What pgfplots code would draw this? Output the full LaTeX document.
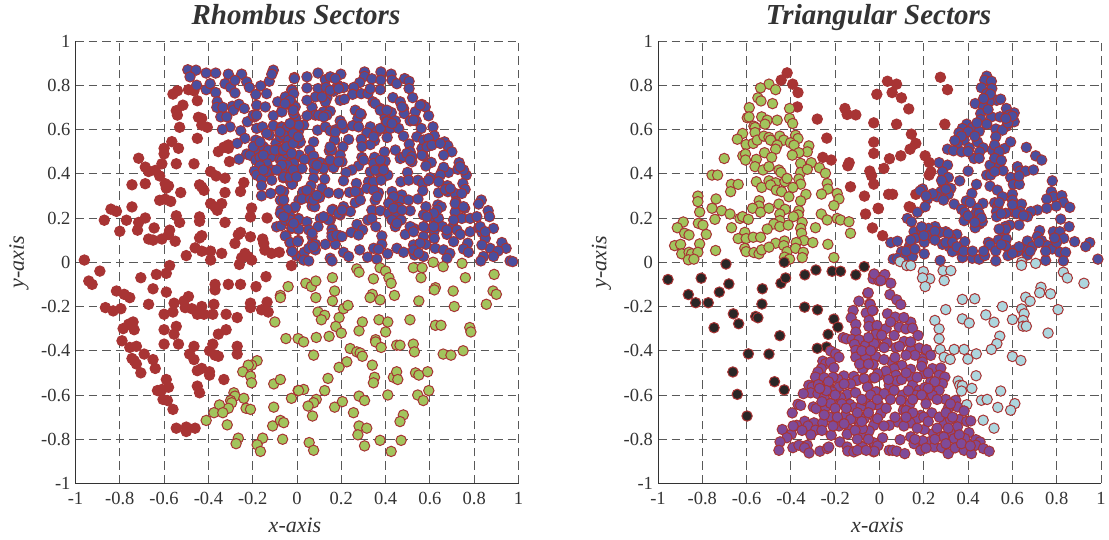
\documentclass[border=0pt]{standalone}
\usepackage{pgfplots}
\pgfplotsset{compat=1.18}
\usepackage{fontspec}
\setmainfont{Liberation Serif}
\definecolor{cred}{HTML}{A83434}
\definecolor{cblue}{HTML}{4A4E9E}
\definecolor{cgreen}{HTML}{A2C45C}
\definecolor{cpurple}{HTML}{7F4A98}
\definecolor{cblack}{HTML}{2A2626}
\definecolor{ccyan}{HTML}{ADD6DE}
\definecolor{ctext}{HTML}{333333}
\pgfplotsset{
 panel/.style={
  scale only axis,width=443bp,height=442.5bp,
  xmin=-1,xmax=1,ymin=-1,ymax=1,
  axis x line=bottom,axis y line=left,
  axis line style={-,color=ctext,line width=0.9bp},
  xtick={-1,-0.8,-0.6,-0.4,-0.2,0,0.2,0.4,0.6,0.8,1},
  ytick={-1,-0.8,-0.6,-0.4,-0.2,0,0.2,0.4,0.6,0.8,1},
  xticklabels={-1,-0.8,-0.6,-0.4,-0.2,0,0.2,0.4,0.6,0.8,1},
  yticklabels={-1,-0.8,-0.6,-0.4,-0.2,0,0.2,0.4,0.6,0.8,1},
  major tick length=0pt,
  tick style={draw=none},
  grid=major,
  grid style={draw=black!65,line width=0.9bp,dash pattern=on 8.5bp off 5bp},
  tick label style={font=\fontsize{18.5bp}{20bp}\selectfont,text=ctext},
  xticklabel style={yshift=-5bp},
  yticklabel style={xshift=-1.5bp},
  xlabel style={at={(axis description cs:0.5,0)},anchor=center,yshift=-41.5bp,xshift=-2bp,font=\fontsize{22bp}{24bp}\itshape,text=ctext},
  ylabel style={at={(axis description cs:0,0.5)},anchor=center,yshift=56.5bp,font=\fontsize{22bp}{24bp}\itshape,text=ctext},
  title style={at={(axis description cs:0.5,1)},anchor=base,yshift=11bp,xshift=-1bp,font=\fontsize{29bp}{32bp}\bfseries\itshape,text=ctext},
  xlabel={x-axis},ylabel={y-axis},
 },
 pts/.style={only marks,mark=*,mark size=5.2bp,mark options={draw=cred,fill=#1,line width=1bp}},
}
\begin{document}
\begin{tikzpicture}
\path[use as bounding box] (-75.5bp,-56.5bp) rectangle (1033.5bp,483.5bp);
\begin{axis}[panel,at={(0,0)},anchor=south west,title={Rhombus Sectors}]
\addplot[pts=cred] coordinates {
(-0.96,0.01)(-0.89,-0.04)(-0.87,0.19)(-0.84,0.24)(-0.815,0.23)(-0.80,0.14)(-0.77,0.19)(-0.745,0.35)(-0.745,0.25)(-0.72,0.145)(-0.715,0.18)(-0.685,0.20)(-0.685,0.355)(-0.715,0.47)(-0.685,0.43)(-0.67,0.41)(-0.64,0.415)(-0.61,0.445)(-0.62,0.39)(-0.60,0.515)(-0.60,0.49)(-0.565,0.545)(-0.535,0.515)(-0.545,0.445)(-0.465,0.445)(-0.595,0.355)(-0.58,0.345)(-0.59,0.335)(-0.525,0.315)(-0.62,0.28)(-0.595,0.285)(-0.57,0.275)(-0.545,0.21)(-0.53,0.18)(-0.645,0.155)(-0.67,0.105)(-0.65,0.10)(-0.61,0.105)(-0.575,0.145)(-0.58,0.125)(-0.55,0.095)(-0.50,0.03)(-0.46,0.065)(-0.43,0.05)(-0.39,0.05)(-0.39,0.01)(-0.34,0.04)(-0.44,0.11)(-0.43,0.12)(-0.44,0.205)(-0.44,0.185)(-0.44,0.35)(-0.43,0.34)(-0.42,0.325)(-0.39,0.265)(-0.36,0.235)(-0.34,0.265)(-0.37,0.25)(-0.325,0.315)(-0.325,0.38)(-0.39,0.41)(-0.365,0.39)(-0.255,0.32)(-0.24,0.36)(-0.325,0.18)(-0.205,0.245)(-0.21,0.205)(-0.135,0.20)(-0.265,0.125)(-0.255,0.135)(-0.28,0.085)(-0.21,0.115)(-0.155,0.105)(-0.15,0.085)(-0.145,0.055)(-0.115,0.04)(-0.08,0.045)(-0.235,0.04)(-0.22,0.025)(-0.25,0.02)(-0.205,0.01)(-0.26,-0.01)(-0.025,-0.015)(-0.305,0.455)(-0.355,0.50)(-0.33,0.52)(-0.31,0.53)(-0.31,0.515)(-0.45,0.56)(-0.53,0.61)(-0.405,0.61)(-0.43,0.62)(-0.445,0.655)(-0.43,0.65)(-0.45,0.73)(-0.545,0.685)(-0.54,0.665)(-0.515,0.71)(-0.56,0.76)(-0.54,0.775)(-0.49,0.78)(-0.465,0.775)
(-0.94,-0.085)(-0.925,-0.10)(-0.865,-0.205)(-0.83,-0.22)(-0.815,-0.13)(-0.795,-0.21)(-0.78,-0.145)(-0.755,-0.16)(-0.785,-0.30)(-0.76,-0.28)(-0.74,-0.27)(-0.735,-0.305)(-0.79,-0.355)(-0.755,-0.385)(-0.725,-0.38)(-0.69,-0.415)(-0.745,-0.435)(-0.735,-0.445)(-0.725,-0.46)(-0.705,-0.50)(-0.705,-0.07)(-0.635,-0.055)(-0.59,-0.05)(-0.575,-0.015)(-0.65,-0.12)(-0.59,-0.135)(-0.67,-0.19)(-0.60,-0.235)(-0.56,-0.225)(-0.555,-0.185)(-0.51,-0.175)(-0.49,-0.155)(-0.505,-0.205)(-0.475,-0.21)(-0.45,-0.235)(-0.43,-0.20)(-0.42,-0.235)(-0.38,-0.235)(-0.375,-0.19)(-0.37,-0.10)(-0.37,-0.125)(-0.31,-0.10)(-0.255,-0.10)(-0.185,-0.11)(-0.14,-0.065)(-0.32,-0.235)(-0.27,-0.25)(-0.21,-0.185)(-0.21,-0.205)(-0.135,-0.18)(-0.16,-0.215)(-0.13,-0.225)(-0.60,-0.305)(-0.545,-0.29)(-0.555,-0.325)(-0.60,-0.37)(-0.535,-0.37)(-0.465,-0.38)(-0.485,-0.415)(-0.465,-0.44)(-0.395,-0.40)(-0.38,-0.37)(-0.37,-0.42)(-0.355,-0.425)(-0.355,-0.325)(-0.32,-0.305)(-0.27,-0.38)(-0.27,-0.415)(-0.65,-0.44)(-0.64,-0.48)(-0.45,-0.49)(-0.43,-0.48)(-0.395,-0.495)(-0.395,-0.51)(-0.33,-0.53)(-0.59,-0.53)(-0.63,-0.58)(-0.61,-0.575)(-0.58,-0.565)(-0.45,-0.56)(-0.44,-0.59)(-0.605,-0.62)(-0.585,-0.625)(-0.56,-0.665)(-0.545,-0.75)(-0.50,-0.745)(-0.50,-0.765)(-0.46,-0.75)
};
\addplot[pts=cblue] coordinates {
(-0.493,0.87)(-0.456,0.868)(-0.41,0.855)(-0.367,0.855)(-0.483,0.838)(-0.453,0.80)(-0.41,0.78)(-0.392,0.807)(-0.367,0.767)(-0.31,0.85)(-0.25,0.85)(-0.325,0.807)(-0.30,0.79)(-0.28,0.822)(-0.28,0.765)(-0.227,0.815)(-0.215,0.79)(-0.186,0.758)(-0.164,0.797)(-0.137,0.762)(-0.125,0.818)(-0.107,0.868)(-0.114,0.85)(-0.012,0.835)(-0.087,0.725)(-0.05,0.747)(-0.024,0.78)(-0.029,0.71)(-0.36,0.725)(-0.362,0.70)(-0.335,0.70)(-0.292,0.705)(-0.287,0.687)(-0.262,0.714)(-0.238,0.695)(-0.182,0.71)(-0.143,0.702)(-0.344,0.657)(-0.317,0.657)(-0.302,0.612)(-0.337,0.60)(-0.224,0.635)(-0.192,0.657)(-0.07,0.68)(-0.107,0.662)(-0.182,0.605)(-0.156,0.612)(-0.107,0.617)(-0.07,0.612)(-0.006,0.65)(-0.04,0.605)(-0.254,0.594)(-0.235,0.56)(-0.27,0.537)(-0.186,0.552)(-0.125,0.575)(-0.062,0.564)(-0.032,0.582)(0.006,0.59)(-0.19,0.51)(-0.152,0.522)(-0.095,0.537)(-0.08,0.514)(0.006,0.537)(-0.227,0.489)(-0.212,0.484)(-0.262,0.466)(-0.186,0.462)(-0.167,0.474)(-0.114,0.477)(-0.077,0.466)(-0.044,0.462)(-0.017,0.447)(0.006,0.477)(-0.137,0.447)(-0.167,0.436)(-0.192,0.412)(-0.114,0.417)(-0.077,0.414)(-0.035,0.417)(-0.182,0.394)(-0.16,0.376)(-0.114,0.371)(-0.062,0.382)(-0.024,0.356)(-0.16,0.346)(-0.16,0.30)(-0.119,0.311)(-0.062,0.319)(-0.062,0.286)(0.009,0.281)(-0.072,0.236)(-0.054,0.233)(-0.009,0.248)(-0.032,0.209)(0.006,0.198)(-0.05,0.188)(-0.092,0.16)(-0.072,0.165)(-0.024,0.153)(0.006,0.149)(-0.05,0.119)(-0.032,0.089)(0.006,0.098)(-0.024,0.051)(-0.002,0.029)(0.02,0.026)
(0.095,0.855)(-0.012,0.83)(0.045,0.838)(0.128,0.825)(0.15,0.838)(0.198,0.85)(0.305,0.86)(0.305,0.84)(0.379,0.86)(0.425,0.85)(0.283,0.812)(0.338,0.829)(0.379,0.823)(0.429,0.823)(0.451,0.807)(0.486,0.83)(0.506,0.818)(0.506,0.785)(-0.022,0.777)(0.045,0.788)(0.095,0.785)(0.131,0.79)(0.184,0.80)(0.165,0.773)(0.256,0.79)(0.251,0.759)(0.29,0.762)(0.32,0.762)(0.376,0.78)(0.083,0.747)(0.135,0.743)(0.128,0.725)(0.195,0.732)(0.214,0.737)(-0.022,0.717)(-0.053,0.747)(0.343,0.725)(0.433,0.744)(0.466,0.725)(0.522,0.744)(0.068,0.70)(-0.008,0.702)(0.12,0.68)(0.15,0.683)(0.083,0.665)(0.045,0.662)(-0.068,0.68)(0.263,0.687)(0.29,0.668)(0.275,0.65)(0.376,0.695)(0.426,0.677)(0.481,0.695)(0.484,0.672)(0.534,0.68)(0.564,0.713)(0.579,0.702)(0.594,0.662)(0.398,0.654)(-0.005,0.65)(0.195,0.639)(0.444,0.639)(0.403,0.635)(0.511,0.639)(0.538,0.639)
(0.03,0.62)(-0.008,0.605)(-0.038,0.597)(-0.068,0.609)(0.093,0.597)(0.128,0.612)(0.15,0.594)(0.177,0.60)(0.21,0.605)(0.251,0.617)(0.331,0.612)(0.316,0.585)(0.361,0.59)(0.391,0.605)(0.421,0.605)(0.459,0.605)(0.561,0.605)(0.614,0.612)(0.481,0.57)(0.541,0.567)(0.407,0.564)(0.62,0.571)(0.586,0.552)(0.666,0.544)(0.681,0.526)(0.699,0.499)(0.662,0.484)(-0.06,0.559)(0.015,0.544)(0.075,0.544)(0.17,0.552)(0.233,0.555)(0.29,0.556)(0.35,0.549)(0.331,0.532)(0.507,0.534)(0.597,0.544)(0.564,0.514)(0.207,0.522)(0.293,0.522)(0.01,0.484)(0.057,0.507)(0.146,0.504)(0.158,0.507)(0.195,0.484)(0.444,0.507)(0.395,0.499)(0.511,0.499)(0.466,0.469)(0.571,0.48)(0.293,0.474)(0.35,0.474)(0.075,0.48)(-0.068,0.462)(-0.015,0.447)(0.033,0.465)(0.105,0.451)(0.143,0.451)(0.173,0.447)(0.203,0.454)(0.278,0.436)(0.368,0.447)(0.398,0.457)(0.519,0.454)(0.606,0.451)(0.582,0.435)(0.732,0.45)(0.726,0.42)(0.383,0.424)
(0.023,0.424)(0.078,0.417)(0.12,0.424)(0.165,0.427)(0.248,0.417)(0.221,0.405)(0.331,0.409)(0.376,0.40)(0.41,0.394)(0.499,0.406)(0.654,0.409)(0.764,0.394)(0.684,0.406)(0.075,0.379)(0.125,0.376)(0.21,0.368)(0.268,0.356)(0.323,0.364)(0.346,0.364)(0.38,0.371)(0.469,0.364)(0.504,0.371)(0.546,0.371)(0.602,0.382)(0.568,0.356)(-0.03,0.364)(-0.023,0.352)(0.749,0.356)(0.679,0.346)(0.027,0.319)(0.063,0.346)(0.063,0.311)(0.113,0.334)(0.143,0.314)(0.188,0.311)(0.237,0.316)(0.278,0.314)(0.315,0.334)(0.368,0.314)(-0.06,0.319)(0.429,0.319)(0.473,0.304)(0.568,0.323)(0.639,0.314)(0.681,0.319)(0.714,0.311)(0.759,0.329)(0.023,0.286)(0.102,0.293)(0.06,0.286)(0.263,0.269)(0.353,0.281)(0.429,0.281)(0.466,0.281)(0.504,0.281)(0.546,0.286)(0.717,0.274)(0.832,0.281)(0.82,0.263)
(0.068,0.254)(0.08,0.251)(-0.008,0.251)(-0.045,0.24)(0.162,0.239)(0.21,0.251)(0.241,0.229)(0.195,0.214)(0.338,0.236)(0.376,0.233)(0.414,0.221)(0.459,0.248)(0.447,0.221)(0.511,0.233)(0.582,0.251)(0.636,0.259)(0.651,0.251)(0.714,0.226)(0.757,0.244)(0.863,0.233)(0.869,0.206)(-0.053,0.191)(0.008,0.194)(0.045,0.183)(0.105,0.198)(0.15,0.191)(0.32,0.191)(0.338,0.198)(0.429,0.191)(0.47,0.191)(0.571,0.214)(0.609,0.206)(0.639,0.198)(0.744,0.198)(0.782,0.198)(0.812,0.206)(-0.022,0.156)(0.008,0.15)(0.053,0.146)(0.095,0.161)(0.158,0.15)(0.271,0.171)(0.245,0.135)(0.296,0.146)(0.356,0.161)(0.444,0.161)(0.526,0.153)(0.582,0.153)(0.62,0.143)(0.657,0.161)(0.704,0.161)(0.722,0.146)(0.782,0.138)(0.82,0.156)(0.887,0.153)(0.835,0.135)
(-0.053,0.119)(-0.03,0.089)(0.003,0.093)(0.068,0.116)(0.158,0.131)(0.195,0.119)(0.278,0.123)(0.383,0.119)(0.489,0.126)(0.571,0.116)(0.62,0.108)(0.677,0.126)(0.737,0.126)(0.85,0.108)(0.925,0.089)(0.068,0.081)(0.128,0.081)(0.173,0.081)(0.383,0.081)(0.526,0.078)(0.582,0.081)(0.707,0.093)(0.771,0.086)(0.872,0.063)(0.944,0.063)(0.835,0.078)(-0.022,0.048)(0.033,0.045)(0.083,0.056)(0.21,0.045)(0.233,0.026)(0.283,0.056)(0.346,0.063)(0.368,0.059)(0.409,0.038)(0.451,0.063)(0.481,0.045)(0.531,0.033)(0.571,0.026)(0.624,0.063)(0.662,0.056)(0.69,0.04)(0.677,0.018)(0.752,0.06)(0.774,0.045)(0.908,0.051)(0.842,0.026)(0.887,0.026)(0.03,0.01)(0.053,0.006)(0.15,0.018)(0.158,0.006)(0.319,0.023)(0.361,0.014)(0.83,0.006)(0.962,0.006)(0.974,0.003)
(0.113,0.747)(-0.045,0.717)(-0.015,0.762)(0.15,0.777)(0.331,0.785)(0.353,0.717)(0.376,0.687)(0.406,0.687)(0.474,0.702)(0.556,0.71)(0.526,0.642)(0.135,0.665)(0.098,0.665)(-0.015,0.619)(0.008,0.619)(-0.045,0.605)(-0.075,0.567)(-0.06,0.574)(-0.038,0.552)(0.346,0.567)(0.376,0.605)(0.406,0.635)(0.429,0.627)(0.571,0.552)(0.594,0.559)(0.564,0.484)(0.587,0.522)(0.609,0.529)(0.647,0.537)(0.481,0.477)(0.496,0.492)(0.519,0.477)(0.511,0.462)(0.301,0.462)(0.346,0.447)(0.376,0.462)(0.353,0.417)(0.391,0.417)(0.075,0.447)(0.09,0.439)(0.15,0.462)(0.188,0.454)(-0.068,0.507)(-0.045,0.492)(-0.045,0.439)(-0.068,0.417)(-0.06,0.386)(-0.03,0.386)(0.662,0.429)(0.647,0.394)(0.752,0.417)(0.737,0.432)(0.594,0.371)(0.639,0.364)(0.669,0.329)(0.692,0.334)(0.744,0.311)(0.714,0.266)(0.752,0.251)(0.632,0.236)(0.617,0.221)(0.587,0.206)(0.827,0.161)(0.85,0.138)(0.707,0.191)(0.677,0.146)(0.617,0.161)(0.571,0.161)(0.556,0.086)(0.526,0.056)(0.549,0.041)(0.436,0.296)(0.414,0.266)(0.436,0.244)(0.474,0.236)(0.451,0.176)(0.511,0.161)(0.526,0.138)(0.263,0.319)(0.286,0.281)(0.346,0.326)(0.361,0.296)(0.158,0.236)(0.188,0.221)(0.203,0.236)(0.143,0.191)(0.12,0.206)(0.158,0.116)(0.18,0.123)(0.203,0.116)(0.068,0.131)(0.083,0.081)(0.053,0.063)(0.075,0.071)(-0.03,0.191)(-0.015,0.176)(0.075,0.281)(0.09,0.302)(0.045,0.326)(-0.075,0.221)(-0.06,0.206)(-0.075,0.281)(-0.06,0.281)(-0.075,0.326)(0.173,0.589)(0.203,0.624)(0.12,0.657)(0.15,0.522)(0.278,0.612)(0.286,0.672)(0.21,0.79)(0.188,0.785)(0.173,0.83)(0.045,0.732)(-0.015,0.672)(-0.197,0.522)(-0.129,0.507)(-0.099,0.507)(-0.152,0.484)(-0.137,0.409)(-0.152,0.417)(-0.062,0.507)(-0.047,0.522)(-0.017,0.537)(-0.024,0.492)(-0.069,0.439)(-0.092,0.417)(-0.032,0.386)(-0.017,0.417)(-0.002,0.386)(-0.017,0.582)(-0.137,0.582)(-0.167,0.544)(-0.077,0.589)(0.006,0.567)(-0.032,0.627)(-0.017,0.687)(-0.032,0.732)(-0.054,0.717)(-0.197,0.665)(-0.182,0.665)
};
\addplot[pts=cgreen] coordinates {
(-0.04,-0.11)(-0.075,-0.15)(-0.075,-0.16)(-0.10,-0.27)(-0.05,-0.345)(0.005,-0.345)(-0.18,-0.445)(-0.205,-0.465)(-0.22,-0.465)(-0.245,-0.495)(-0.21,-0.515)(-0.205,-0.545)(-0.105,-0.55)(-0.075,-0.53)(0.005,-0.58)(-0.025,-0.615)(-0.285,-0.59)(-0.28,-0.605)(-0.30,-0.625)(-0.295,-0.635)(-0.24,-0.615)(-0.31,-0.66)(-0.35,-0.645)(-0.23,-0.66)(-0.21,-0.665)(-0.105,-0.655)(-0.375,-0.68)(-0.335,-0.68)(-0.41,-0.715)(-0.315,-0.735)(-0.11,-0.74)(-0.075,-0.715)(-0.06,-0.725)(-0.265,-0.795)(-0.275,-0.82)(-0.155,-0.795)(-0.18,-0.825)(-0.165,-0.855)(-0.065,-0.80)
(0.04,-0.095)(0.065,-0.11)(0.085,-0.085)(0.16,-0.07)(0.085,-0.16)(0.17,-0.13)(0.16,-0.175)(0.27,-0.03)(0.28,-0.045)(0.345,-0.075)(0.375,-0.025)(0.40,-0.04)(0.415,-0.07)(0.425,-0.095)(0.525,-0.025)(0.565,-0.025)(0.56,-0.07)(0.615,0)(0.66,-0.02)(0.745,-0.005)(0.76,-0.07)(0.89,-0.055)(0.625,-0.115)(0.62,-0.125)(0.705,-0.13)(0.885,-0.13)(0.90,-0.145)(0.71,-0.20)(0.855,-0.19)(0.55,-0.175)(0.44,-0.15)(0.375,-0.17)(0.34,-0.145)(0.33,-0.16)(0.21,-0.21)(0.23,-0.195)(0.095,-0.225)(0.125,-0.24)(0.11,-0.26)(0.19,-0.25)(0.175,-0.29)(0.20,-0.32)(0.295,-0.27)(0.28,-0.31)(0.37,-0.26)(0.41,-0.27)(0.40,-0.315)(0.51,-0.26)(0.625,-0.285)(0.65,-0.285)(0.78,-0.295)(0.785,-0.315)(0.03,-0.36)(0.087,-0.34)(0.145,-0.335)(0.355,-0.35)(0.355,-0.36)(0.38,-0.385)(0.45,-0.375)(0.465,-0.375)(0.525,-0.37)(0.53,-0.405)(0.24,-0.39)(0.27,-0.405)(0.285,-0.41)(0.295,-0.425)(0.075,-0.42)(0.66,-0.415)(0.695,-0.42)(0.75,-0.40)(0.34,-0.465)(0.225,-0.45)(0.19,-0.475)(0.14,-0.525)(0.35,-0.52)(0.345,-0.545)(0.435,-0.52)(0.45,-0.495)(0.455,-0.53)(0.535,-0.50)(0.55,-0.51)(0.59,-0.495)(0.595,-0.58)(0.545,-0.60)(0.57,-0.625)(0.41,-0.60)(0.28,-0.605)(0.305,-0.625)(0.125,-0.58)(0.03,-0.575)(0.007,-0.58)(0.087,-0.62)(0.075,-0.635)(0.05,-0.65)(0.07,-0.695)(0.17,-0.655)(0.205,-0.63)(0.255,-0.68)(0.48,-0.69)(0.465,-0.72)(0.28,-0.74)(0.315,-0.75)(0.275,-0.78)(0.305,-0.83)(0.375,-0.805)(0.425,-0.855)(0.47,-0.805)(0.055,-0.815)(0.075,-0.85)
};
\end{axis}
\begin{axis}[panel,at={(582.5bp,0)},anchor=south west,title={Triangular Sectors}]
\addplot[pts=cred] coordinates {
(-0.417,0.856)(-0.444,0.823)(-0.392,0.805)(-0.368,0.767)(-0.371,0.702)(-0.281,0.647)(-0.238,0.561)(-0.156,0.695)(-0.146,0.668)(-0.107,0.666)(-0.012,0.759)(-0.026,0.63)(-0.026,0.543)(-0.026,0.492)(-0.256,0.474)(-0.218,0.462)(-0.137,0.45)(-0.143,0.436)(-0.044,0.412)(-0.036,0.391)(-0.026,0.353)(-0.131,0.341)(-0.068,0.299)(-0.006,0.244)(-0.063,0.218)(-0.032,0.155)(0.014,0.12)(0.036,0.818)(0.077,0.805)(0.057,0.767)(0.099,0.743)(0.132,0.693)(0.275,0.836)(0.307,0.78)(0.295,0.624)(0.077,0.624)(0.144,0.579)(0.164,0.537)(0.138,0.511)(0.096,0.481)(0.045,0.468)(0.02,0.424)(0.206,0.481)(0.224,0.451)(0.232,0.409)(0.224,0.394)(0.041,0.307)(0.059,0.307)(0.164,0.307)(-0.005,0.242)(0.134,0.251)(0.141,0.248)
};
\addplot[pts=cblue] coordinates {
(0.484,0.841)(0.475,0.823)(0.505,0.818)(0.46,0.789)(0.507,0.785)(0.484,0.762)(0.529,0.732)(0.547,0.737)(0.495,0.725)(0.432,0.717)(0.469,0.702)(0.457,0.672)(0.457,0.645)(0.505,0.657)(0.544,0.657)(0.573,0.695)(0.608,0.675)(0.585,0.665)(0.608,0.635)(0.574,0.615)(0.484,0.624)(0.525,0.602)(0.555,0.597)(0.525,0.567)(0.394,0.624)(0.374,0.605)(0.419,0.608)(0.45,0.592)(0.359,0.585)(0.382,0.552)(0.442,0.544)(0.352,0.537)(0.307,0.511)(0.334,0.504)(0.371,0.499)(0.405,0.517)(0.468,0.517)(0.452,0.499)(0.51,0.507)(0.565,0.514)(0.592,0.544)(0.535,0.48)(0.427,0.469)(0.663,0.519)(0.705,0.481)(0.732,0.462)(0.269,0.45)(0.307,0.439)(0.499,0.439)(0.4,0.412)(0.54,0.432)(0.558,0.414)(0.623,0.432)(0.635,0.412)(0.66,0.412)(0.695,0.417)(0.484,0.394)(0.502,0.394)(0.284,0.409)(0.311,0.383)(0.362,0.368)(0.288,0.353)(0.592,0.383)(0.604,0.352)(0.631,0.352)(0.78,0.368)(0.438,0.352)(0.499,0.344)(0.532,0.326)(0.194,0.331)(0.183,0.322)(0.322,0.334)(0.277,0.319)(0.417,0.311)(0.311,0.307)(0.259,0.296)(0.217,0.286)(0.289,0.281)(0.555,0.296)(0.6,0.308)(0.6,0.281)(0.776,0.319)(0.785,0.296)(0.755,0.286)(0.823,0.301)(0.83,0.271)(0.392,0.277)(0.467,0.266)(0.337,0.263)(0.52,0.269)(0.532,0.251)(0.641,0.263)(0.798,0.254)(0.859,0.248)(0.755,0.244)(0.206,0.251)(0.171,0.226)(0.371,0.239)(0.442,0.244)(0.385,0.226)(0.528,0.229)(0.6,0.229)(0.637,0.229)(0.713,0.236)(0.683,0.229)(0.57,0.221)(0.126,0.198)(0.144,0.183)(0.412,0.206)(0.435,0.221)(0.382,0.188)(0.529,0.206)(0.668,0.206)(0.818,0.195)(0.452,0.173)(0.464,0.183)(0.432,0.156)(0.63,0.168)(0.588,0.168)(0.567,0.161)(0.856,0.161)(0.251,0.161)(0.156,0.138)(0.189,0.146)(0.221,0.153)(0.562,0.135)(0.299,0.138)(0.274,0.135)(0.349,0.126)(0.723,0.143)(0.785,0.138)(0.814,0.138)(0.161,0.108)(0.224,0.12)(0.713,0.116)(0.832,0.108)(0.881,0.093)(0.051,0.089)(0.081,0.095)(0.202,0.09)(0.322,0.108)(0.385,0.093)(0.537,0.101)(0.573,0.105)(0.492,0.09)(0.668,0.096)(0.731,0.098)(0.949,0.089)(0.931,0.071)(0.134,0.071)(0.284,0.081)(0.314,0.071)(0.352,0.056)(0.499,0.078)(0.57,0.074)(0.69,0.071)(0.653,0.056)(0.758,0.075)(0.78,0.06)(0.1,0.048)(0.137,0.056)(0.202,0.038)(0.329,0.048)(0.525,0.051)(0.611,0.056)(0.814,0.045)(0.668,0.033)(0.84,0.045)(0.062,0.014)(0.081,0.018)(0.116,0.026)(0.149,0.026)(0.274,0.008)(0.374,0.021)(0.419,0.018)(0.45,0.014)(0.475,0.03)(0.525,0.006)(0.58,0.03)(0.623,0.048)(0.75,0.008)(0.83,0.006)(0.986,0.014)
(0.50,0.76)(0.47,0.74)(0.49,0.69)(0.58,0.63)(0.60,0.66)(0.57,0.65)(0.44,0.63)(0.40,0.59)(0.43,0.57)(0.37,0.57)(0.34,0.55)(0.40,0.50)(0.45,0.47)(0.52,0.53)(0.54,0.50)(0.52,0.47)(0.55,0.46)(0.52,0.41)(0.63,0.39)(0.28,0.37)(0.30,0.33)(0.24,0.31)(0.21,0.30)(0.41,0.27)(0.45,0.22)(0.40,0.21)(0.46,0.20)(0.43,0.18)(0.54,0.27)(0.55,0.22)(0.60,0.26)(0.62,0.22)(0.65,0.21)(0.19,0.16)(0.20,0.12)(0.25,0.14)(0.25,0.10)(0.31,0.13)(0.30,0.09)(0.33,0.09)(0.35,0.07)(0.38,0.05)(0.42,0.05)(0.47,0.05)(0.14,0.10)(0.12,0.05)(0.16,0.06)(0.57,0.15)(0.54,0.15)(0.55,0.08)(0.72,0.09)(0.75,0.05)(0.80,0.09)(0.79,0.11)(0.63,0.07)(0.60,0.04)(0.68,0.05)
};
\addplot[pts=cgreen] coordinates {
(-0.499,0.805)(-0.537,0.788)(-0.469,0.78)(-0.549,0.743)(-0.535,0.729)(-0.483,0.717)(-0.588,0.699)(-0.406,0.695)(-0.597,0.653)(-0.589,0.657)(-0.532,0.657)(-0.507,0.642)(-0.517,0.624)(-0.462,0.642)(-0.406,0.65)(-0.392,0.627)(-0.567,0.615)(-0.562,0.609)(-0.562,0.586)(-0.618,0.582)(-0.642,0.556)(-0.602,0.532)(-0.57,0.537)(-0.552,0.552)(-0.522,0.57)(-0.499,0.564)(-0.492,0.552)(-0.45,0.57)(-0.432,0.552)(-0.379,0.574)(-0.368,0.559)(-0.462,0.529)(-0.469,0.511)(-0.402,0.54)(-0.386,0.529)(-0.319,0.526)(-0.326,0.499)(-0.364,0.495)(-0.394,0.484)(-0.519,0.495)(-0.487,0.474)(-0.556,0.465)(-0.617,0.481)(-0.605,0.489)(-0.605,0.462)(-0.701,0.469)(-0.562,0.432)(-0.526,0.417)(-0.499,0.432)(-0.454,0.417)(-0.445,0.406)(-0.356,0.447)(-0.308,0.45)(-0.356,0.406)(-0.326,0.42)(-0.271,0.427)(-0.244,0.402)(-0.756,0.394)(-0.731,0.394)(-0.556,0.364)(-0.499,0.368)(-0.469,0.359)(-0.427,0.364)(-0.417,0.379)(-0.364,0.376)(-0.356,0.353)(-0.236,0.356)(-0.233,0.331)(-0.669,0.352)(-0.638,0.352)(-0.672,0.319)(-0.532,0.338)(-0.492,0.349)(-0.466,0.326)(-0.391,0.338)(-0.442,0.319)(-0.409,0.296)(-0.332,0.307)(-0.262,0.308)(-0.191,0.311)(-0.183,0.286)(-0.82,0.299)(-0.82,0.274)(-0.738,0.286)(-0.356,0.277)(-0.454,0.263)(-0.543,0.278)(-0.544,0.254)(-0.573,0.244)(-0.537,0.226)(-0.499,0.244)(-0.426,0.239)(-0.206,0.256)(-0.812,0.227)(-0.756,0.244)(-0.713,0.233)(-0.675,0.218)(-0.364,0.233)(-0.45,0.218)(-0.367,0.214)(-0.263,0.218)(-0.743,0.194)(-0.63,0.198)(-0.618,0.206)(-0.592,0.194)(-0.389,0.206)(-0.191,0.198)(-0.176,0.191)(-0.138,0.183)(-0.236,0.191)(-0.886,0.182)(-0.913,0.156)(-0.818,0.176)(-0.797,0.168)(-0.668,0.156)(-0.45,0.188)(-0.477,0.173)(-0.45,0.161)(-0.412,0.168)(-0.349,0.18)(-0.507,0.15)(-0.356,0.153)(-0.289,0.156)(-0.131,0.131)(-0.88,0.131)(-0.86,0.123)(-0.782,0.126)(-0.352,0.131)(-0.608,0.135)(-0.638,0.107)(-0.602,0.107)(-0.57,0.113)(-0.537,0.113)(-0.429,0.096)(-0.341,0.098)(-0.301,0.089)(-0.233,0.081)(-0.469,0.086)(-0.432,0.075)(-0.376,0.089)(-0.925,0.075)(-0.898,0.081)(-0.812,0.083)(-0.893,0.038)(-0.86,0.045)(-0.848,0.038)(-0.82,0.045)(-0.863,0.011)(-0.838,0.014)(-0.74,0.053)(-0.608,0.063)(-0.602,0.048)(-0.567,0.044)(-0.544,0.038)(-0.532,0.056)(-0.499,0.068)(-0.417,0.048)(-0.379,0.063)(-0.344,0.045)(-0.429,0.023)(-0.406,0.014)(-0.349,0.021)(-0.206,0.021)
};
\addplot[pts=cblack] coordinates {
(-0.693,-0.008)(-0.43,0)(-0.955,-0.078)(-0.805,-0.072)(-0.68,-0.098)(-0.723,-0.135)(-0.863,-0.146)(-0.83,-0.183)(-0.773,-0.183)(-0.747,-0.296)(-0.66,-0.233)(-0.636,-0.278)(-0.559,-0.245)(-0.549,-0.251)(-0.531,-0.189)(-0.529,-0.12)(-0.445,-0.095)(-0.424,-0.071)(-0.337,-0.057)(-0.287,-0.035)(-0.214,-0.041)(-0.176,-0.041)(-0.107,-0.057)(-0.069,-0.02)(-0.338,-0.203)(-0.28,-0.215)(-0.206,-0.257)(-0.188,-0.293)(-0.232,-0.326)(-0.239,-0.383)(-0.281,-0.389)(-0.45,-0.332)(-0.592,-0.414)(-0.499,-0.415)(-0.662,-0.496)(-0.474,-0.54)(-0.43,-0.577)(-0.642,-0.597)(-0.598,-0.695)
};
\addplot[pts=ccyan] coordinates {
(0.093,0.003)(0.123,-0.015)(0.141,-0.015)(0.198,-0.042)(0.227,-0.075)(0.194,-0.071)(0.206,-0.11)(0.287,-0.038)(0.322,-0.038)(0.292,-0.083)(0.642,0)(0.641,-0.014)(0.705,-0.005)(0.83,-0.045)(0.848,-0.071)(0.923,-0.095)(0.729,-0.113)(0.723,-0.138)(0.772,-0.143)(0.66,-0.158)(0.68,-0.176)(0.374,-0.168)(0.43,-0.165)(0.555,-0.2)(0.299,-0.214)(0.48,-0.238)(0.517,-0.271)(0.6,-0.259)(0.642,-0.211)(0.653,-0.233)(0.648,-0.263)(0.648,-0.289)(0.663,-0.289)(0.806,-0.214)(0.25,-0.263)(0.269,-0.301)(0.374,-0.256)(0.405,-0.275)(0.761,-0.32)(0.543,-0.334)(0.269,-0.346)(0.53,-0.368)(0.505,-0.394)(0.274,-0.394)(0.337,-0.394)(0.382,-0.394)(0.437,-0.414)(0.292,-0.429)(0.319,-0.439)(0.399,-0.438)(0.6,-0.426)(0.638,-0.444)(0.436,-0.513)(0.355,-0.537)(0.362,-0.556)(0.374,-0.558)(0.37,-0.582)(0.417,-0.57)(0.547,-0.582)(0.46,-0.624)(0.486,-0.62)(0.394,-0.644)(0.534,-0.656)(0.611,-0.639)(0.592,-0.669)(0.468,-0.714)(0.517,-0.75)
};
\addplot[pts=cpurple] coordinates {
(-0.026,-0.057)(-0.029,-0.075)(-0.003,-0.083)(-0.053,-0.14)(-0.093,-0.176)(-0.044,-0.188)(-0.119,-0.218)(-0.029,-0.218)(-0.06,-0.229)(-0.128,-0.251)(-0.047,-0.263)(-0.107,-0.281)(-0.048,-0.29)(-0.011,-0.286)(-0.107,-0.316)(-0.018,-0.331)(-0.164,-0.341)(-0.15,-0.346)(-0.124,-0.349)(-0.093,-0.35)(-0.113,-0.371)(-0.063,-0.376)(-0.018,-0.361)(-0.026,-0.38)(-0.221,-0.401)(-0.198,-0.414)(-0.183,-0.429)(-0.107,-0.398)(-0.107,-0.429)(-0.063,-0.429)(-0.018,-0.429)(-0.256,-0.447)(-0.244,-0.459)(-0.221,-0.451)(-0.206,-0.477)(-0.03,-0.459)(-0.074,-0.481)(-0.263,-0.481)(-0.278,-0.496)(-0.289,-0.519)(-0.25,-0.522)(-0.161,-0.514)(-0.188,-0.529)(-0.116,-0.516)(-0.101,-0.534)(-0.071,-0.526)(-0.026,-0.522)(-0.003,-0.511)(-0.319,-0.556)(-0.304,-0.564)(-0.276,-0.553)(-0.228,-0.561)(-0.183,-0.564)(-0.053,-0.561)(-0.311,-0.59)(-0.344,-0.594)(-0.278,-0.594)(-0.214,-0.586)(-0.146,-0.597)(-0.108,-0.59)(-0.011,-0.586)(-0.25,-0.612)(-0.198,-0.621)(-0.176,-0.612)(-0.063,-0.624)(-0.368,-0.642)(-0.356,-0.647)(-0.299,-0.654)(-0.286,-0.662)(-0.244,-0.654)(-0.221,-0.638)(-0.134,-0.642)(-0.113,-0.657)(-0.083,-0.651)(-0.003,-0.647)(-0.394,-0.681)(-0.228,-0.699)(-0.153,-0.692)(-0.116,-0.707)(-0.071,-0.707)(-0.018,-0.71)(-0.338,-0.719)(-0.374,-0.737)(-0.296,-0.726)(-0.256,-0.726)(-0.183,-0.74)(-0.093,-0.744)(-0.026,-0.737)(-0.439,-0.756)(-0.398,-0.777)(-0.418,-0.793)(-0.323,-0.74)(-0.289,-0.759)(-0.218,-0.782)(-0.134,-0.756)(-0.146,-0.777)(-0.074,-0.777)(-0.047,-0.762)(-0.449,-0.812)(-0.454,-0.85)(-0.391,-0.838)(-0.364,-0.827)(-0.326,-0.827)(-0.338,-0.839)(-0.318,-0.862)(-0.269,-0.854)(-0.236,-0.842)(-0.229,-0.835)(-0.179,-0.812)(-0.146,-0.835)(-0.143,-0.853)(-0.116,-0.857)(-0.081,-0.832)(-0.026,-0.817)(-0.026,-0.857)(-0.006,-0.827)
(-0.024,-0.053)(0.024,-0.056)(0.006,-0.083)(0.051,-0.095)(-0.051,-0.138)(0.047,-0.146)(0.078,-0.17)(0.096,-0.191)(-0.042,-0.191)(-0.032,-0.218)(0.036,-0.233)(0.071,-0.248)(0.089,-0.293)(0.141,-0.271)(0.119,-0.301)(0.149,-0.298)(0.174,-0.331)(0.066,-0.331)(-0.017,-0.326)(0.111,-0.358)(0.074,-0.386)(0.033,-0.364)(0.021,-0.386)(-0.024,-0.368)(0.179,-0.388)(0.212,-0.395)(0.231,-0.421)(0.141,-0.398)(0.191,-0.436)(0.194,-0.451)(-0.017,-0.426)(-0.062,-0.429)(0.056,-0.451)(-0.029,-0.462)(0.101,-0.466)(0.066,-0.481)(0.029,-0.492)(0.141,-0.484)(0.239,-0.481)(0.277,-0.478)(0.202,-0.504)(-0.077,-0.481)(-0.009,-0.504)(0.074,-0.511)(0.141,-0.519)(0.269,-0.511)(0.295,-0.519)(-0.021,-0.522)(-0.069,-0.526)(0.232,-0.537)(0.149,-0.556)(0.284,-0.549)(0.044,-0.556)(0.078,-0.537)(-0.054,-0.564)(-0.017,-0.586)(0.021,-0.594)(0.066,-0.579)(0.104,-0.601)(0.179,-0.579)(0.205,-0.566)(0.239,-0.576)(0.269,-0.579)(0.164,-0.601)(0.209,-0.612)(0.239,-0.601)(0.299,-0.62)(0.344,-0.624)(0.096,-0.624)(0.352,-0.654)(0.382,-0.672)(0.138,-0.639)(0.108,-0.669)(-0.069,-0.624)(0.006,-0.684)(-0.009,-0.707)(0.186,-0.692)(0.236,-0.681)(0.171,-0.707)(-0.069,-0.707)(0.081,-0.722)(0.138,-0.726)(0.044,-0.737)(0.293,-0.729)(0.32,-0.711)(0.359,-0.711)(0.394,-0.719)(0.412,-0.717)(0.352,-0.744)(0.202,-0.756)(0.244,-0.774)(0.277,-0.785)(0.319,-0.77)(0.404,-0.77)(0.141,-0.789)(0.093,-0.802)(0.014,-0.794)(-0.077,-0.752)(0.385,-0.797)(0.435,-0.802)(0.454,-0.812)(0.337,-0.797)(0.224,-0.812)(0.194,-0.807)(0.156,-0.82)(-0.024,-0.817)(-0.009,-0.83)(-0.024,-0.854)(0.044,-0.85)(0.059,-0.85)(0.078,-0.854)(0.114,-0.865)(0.186,-0.85)(0.247,-0.835)(0.281,-0.838)(0.31,-0.865)(0.341,-0.839)(0.382,-0.85)(0.415,-0.865)(0.435,-0.827)(0.469,-0.842)(0.495,-0.854)(-0.077,-0.835)
(-0.05,-0.34)(-0.08,-0.40)(-0.04,-0.40)(-0.09,-0.46)(-0.05,-0.46)(-0.13,-0.55)(-0.16,-0.55)(-0.21,-0.52)(-0.23,-0.54)(-0.24,-0.58)(-0.20,-0.60)(-0.17,-0.64)(-0.15,-0.66)(-0.20,-0.66)(-0.26,-0.63)(-0.27,-0.57)(-0.25,-0.69)(-0.19,-0.70)(-0.13,-0.71)(-0.10,-0.68)(-0.08,-0.62)(-0.04,-0.60)(-0.04,-0.65)(-0.05,-0.68)(-0.08,-0.72)(-0.11,-0.76)(-0.16,-0.73)(-0.21,-0.74)(-0.26,-0.76)(-0.31,-0.78)(-0.35,-0.76)(-0.39,-0.74)(-0.10,-0.80)(-0.05,-0.80)(-0.10,-0.85)(-0.06,-0.85)(0.02,-0.44)(0.07,-0.43)(0.04,-0.53)(0.10,-0.53)(0.12,-0.50)(0.17,-0.52)(0.19,-0.47)(0.22,-0.50)(0.25,-0.54)(0.22,-0.57)(0.19,-0.60)(0.13,-0.58)(0.15,-0.62)(0.21,-0.64)(0.26,-0.62)(0.31,-0.66)(0.32,-0.64)(0.12,-0.67)(0.15,-0.68)(0.20,-0.70)(0.22,-0.72)(0.27,-0.70)(0.30,-0.68)(0.33,-0.70)(0.26,-0.75)(0.31,-0.75)(0.36,-0.78)(0.29,-0.79)(0.17,-0.75)(0.11,-0.74)(0.12,-0.70)(0.07,-0.70)(0.03,-0.66)(0.05,-0.62)(-0.01,-0.62)(0.02,-0.74)(0.16,-0.80)(0.21,-0.84)(0.25,-0.80)(0.30,-0.82)(0.37,-0.82)(0.41,-0.83)(0.14,-0.36)(0.16,-0.42)(0.12,-0.42)(0.09,-0.38)(0.03,-0.30)(0.01,-0.33)(0.05,-0.27)(0.11,-0.25)
};
\end{axis}
\end{tikzpicture}
\end{document}
